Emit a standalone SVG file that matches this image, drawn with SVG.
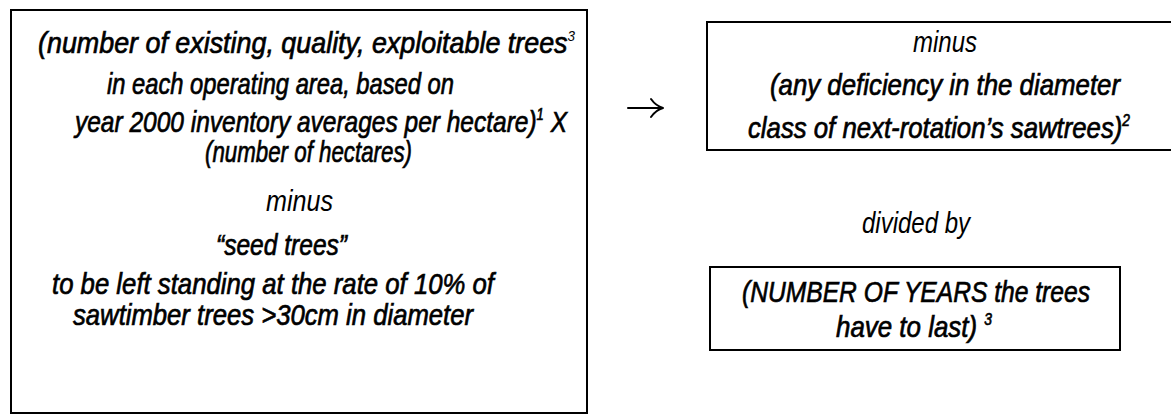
<svg xmlns="http://www.w3.org/2000/svg" width="1171" height="416" viewBox="0 0 1171 416">
  <style>
    .box { fill: #ffffff; stroke: #000000; stroke-width: 2; }
    .t { font-family: "Liberation Sans Narrow", "Liberation Sans", Arial, sans-serif; font-style: italic; font-size: 30px; font-weight: normal; fill: #000000; }
    .b { stroke: #000000; stroke-width: 0.7; }
    .r { stroke: none; }
    .sup { font-size: 16px; }
    .sup-light { font-size: 15px; stroke: none; }
    .link { fill: none; stroke: #000000; stroke-width: 2; stroke-linecap: round; stroke-linejoin: round; }
  </style>
  <rect width="1171" height="416" fill="#ffffff"/>

  <!-- left block: tree count per operating area, minus seed trees -->
  <g id="node-stock">
    <rect class="box" x="11" y="10" width="576" height="403"/>
    <text class="t b" x="38" y="53" textLength="537" lengthAdjust="spacingAndGlyphs">(number of existing, quality, exploitable trees<tspan class="sup-light" dy="-12">3</tspan></text>
    <text class="t b" x="107" y="94" textLength="347" lengthAdjust="spacingAndGlyphs">in each operating area, based on</text>
    <text class="t b" x="75" y="132" textLength="492" lengthAdjust="spacingAndGlyphs">year 2000 inventory averages per hectare)<tspan class="sup" dy="-12">1</tspan><tspan dy="12">  X</tspan></text>
    <text class="t b" x="205" y="162" textLength="207" lengthAdjust="spacingAndGlyphs">(number of hectares)</text>
    <text class="t r" x="266" y="211" textLength="67" lengthAdjust="spacingAndGlyphs">minus</text>
    <text class="t b" x="216" y="255" textLength="131" lengthAdjust="spacingAndGlyphs">“seed trees”</text>
    <text class="t b" x="52" y="294" textLength="442" lengthAdjust="spacingAndGlyphs">to be left standing at the rate of 10% of</text>
    <text class="t b" x="73" y="325" textLength="400" lengthAdjust="spacingAndGlyphs">sawtimber trees &gt;30cm in diameter</text>
  </g>

  <!-- arrow between the blocks: shaft with an open curved head -->
  <g id="connectors">
    <path class="link" d="M628,108 H662"/>
    <path class="link" d="M651,99 Q656,106 663,108 Q656,110 651,117"/>
  </g>

  <!-- top right block: diameter-class deficiency -->
  <g id="node-deficiency">
    <rect class="box" x="707" y="22" width="480" height="128"/>
    <text class="t r" x="913" y="52" textLength="64" lengthAdjust="spacingAndGlyphs">minus</text>
    <text class="t b" x="770" y="95" textLength="350" lengthAdjust="spacingAndGlyphs">(any deficiency in the diameter</text>
    <text class="t b" x="748" y="138" textLength="382" lengthAdjust="spacingAndGlyphs">class of next-rotation’s sawtrees)<tspan class="sup" dy="-12">2</tspan></text>
  </g>

  <!-- divisor label -->
  <g id="node-divided">
    <text class="t r" x="862" y="233" textLength="108" lengthAdjust="spacingAndGlyphs">divided by</text>
  </g>

  <!-- bottom right block: number of years -->
  <g id="node-years">
    <rect class="box" x="710" y="267" width="410" height="83"/>
    <text class="t b" x="742" y="302" textLength="348" lengthAdjust="spacingAndGlyphs">(NUMBER OF YEARS the trees</text>
    <text class="t b" x="836" y="337" textLength="156" lengthAdjust="spacingAndGlyphs">have to last) <tspan class="sup" dy="-12">3</tspan></text>
  </g>
</svg>
